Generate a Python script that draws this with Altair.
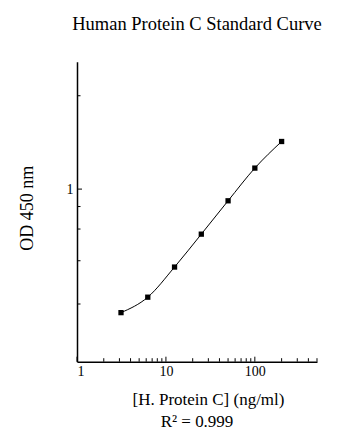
import altair as alt
import pandas as pd

# ---- data ----
conc = [3.125, 6.25, 12.5, 25, 50, 100, 200]
od = [0.206, 0.251, 0.369, 0.562, 0.861, 1.308, 1.838]

x_major = [1, 10, 100]
x_minor = [2, 3, 4, 5, 6, 7, 8, 9, 20, 30, 40, 50, 60, 70, 80, 90, 200, 300, 400, 500]
y_major = [1]
y_minor = [0.23, 0.4, 0.6, 0.8, 3.3]

title_text = "Human Protein C Standard Curve"
x_title = "[H. Protein C] (ng/ml)"
y_title = "OD 450 nm"
r2_text = ["R² = 0.999"]

W, H = 240, 300
FONT = "Liberation Serif"

xscale = alt.Scale(type="log", domain=[1, 500], nice=False)
yscale = alt.Scale(type="log", domain=[0.11, 5.1], nice=False)

x_axis = alt.Axis(values=x_major, format="~g", title=x_title, ticks=False,
                  labelPadding=3, titleX=131, titleY=43, titleAlign="center",
                  titleBaseline="alphabetic")
y_axis = alt.Axis(values=y_major, format="~g", title=y_title, ticks=False,
                  labelPadding=4, titleX=-50, titleY=146, titleAlign="center",
                  titleBaseline="middle", titleFontSize=18)

df = pd.DataFrame({"conc": conc, "od": od})

line = alt.Chart(df).mark_line(color="black", strokeWidth=1, interpolate="monotone").encode(
    x=alt.X("conc:Q", scale=xscale, axis=x_axis),
    y=alt.Y("od:Q", scale=yscale, axis=y_axis),
)
pts = alt.Chart(df).mark_square(color="black", size=28, opacity=1).encode(
    x=alt.X("conc:Q", scale=xscale, axis=x_axis),
    y=alt.Y("od:Q", scale=yscale, axis=y_axis),
)

def xticks(vals, length):
    return alt.Chart(pd.DataFrame({"conc": vals})).mark_rule(color="black", strokeWidth=1).encode(
        x=alt.X("conc:Q", scale=xscale, axis=x_axis),
        y=alt.value(H), y2=alt.value(H - length),
    )

def yticks(vals, length):
    return alt.Chart(pd.DataFrame({"od": vals})).mark_rule(color="black", strokeWidth=1).encode(
        y=alt.Y("od:Q", scale=yscale, axis=y_axis),
        x=alt.value(0), x2=alt.value(length),
    )

r2 = alt.Chart(pd.DataFrame({"t": r2_text})).mark_text(
    font=FONT, fontSize=17, color="black", align="center", baseline="alphabetic"
).encode(x=alt.value(120), y=alt.value(365.5), text="t:N")

chart = alt.layer(
    line, pts,
    xticks(x_major, 5), xticks(x_minor, 3.5),
    yticks(y_major, 5), yticks(y_minor, 3.5),
    r2,
).properties(
    width=W, height=H,
    title=alt.TitleParams(title_text, font=FONT, fontSize=18.5, fontWeight="normal",
                          color="black", anchor="middle", baseline="alphabetic", offset=13),
    autosize=alt.AutoSizeParams(type="none"),
    padding={"left": 69, "top": 53.7, "right": 30, "bottom": 70},
).configure_view(stroke=None).configure_axis(
    grid=False, domainColor="black", domainWidth=1.5,
    labelFont=FONT, labelFontSize=14, labelColor="black",
    titleFont=FONT, titleFontSize=17, titleColor="black", titleFontWeight="normal",
)

chart.save("out.html", embed_options={"renderer": "svg", "actions": False})
